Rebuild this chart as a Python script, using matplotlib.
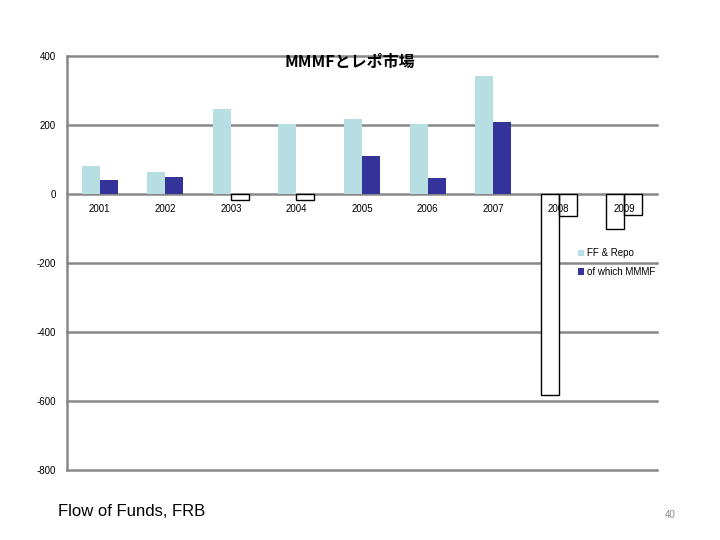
import matplotlib
matplotlib.use("Agg")
import matplotlib.pyplot as plt
import numpy as np
from matplotlib.patches import Patch

years = ["2001", "2002", "2003", "2004", "2005", "2006", "2007", "2008", "2009"]
ff_repo = [81, 64, 246, 203, 217, 203, 342, -583, -101]
mmmf = [41, 49, -17, -17, 110, 46, 209, -64, -61]
series_names = ["FF & Repo", "of which MMMF"]
yticks = [400, 200, 0, -200, -400, -600, -800]

plt.rcParams['font.family'] = ['Liberation Sans', 'DejaVu Sans']

fig = plt.figure(figsize=(7.2, 5.4), dpi=100)
ax = fig.add_axes([67/720, 1-470/540, 590/720, 414/540])

x = np.arange(len(years))
w = 0.274
c_ff = "#b7dfe3"
c_mm = "#333399"

def colors(vals, pos):
    return [pos if v >= 0 else "white" for v in vals]

def edges(vals):
    return ["none" if v >= 0 else "black" for v in vals]

for offs, vals, col, name in [(-w/2, ff_repo, c_ff, series_names[0]),
                              (w/2, mmmf, c_mm, series_names[1])]:
    ax.bar(x + offs, vals, width=w, color=colors(vals, col),
           edgecolor="none", zorder=3, label=name)
    ax.bar(x + offs, vals, width=w, color="none",
           edgecolor=edges(vals), linewidth=1.0, zorder=5)

ax.set_xlim(-0.5, len(years) - 0.5)
ax.set_ylim(-800, 400)
ax.set_yticks(yticks)
ax.set_yticklabels([str(t) for t in yticks], fontsize=7)
ax.tick_params(axis='y', length=0, pad=8)
ax.set_xticks([])
ax.yaxis.grid(True, color="#888888", linewidth=1.8, zorder=1)
ax.set_axisbelow(True)
for line in ax.get_ygridlines():
    line.set_clip_on(False)
for s in ["top", "right", "bottom"]:
    ax.spines[s].set_visible(False)
ax.spines["left"].set_color("#888888")
ax.spines["left"].set_linewidth(1.8)

for i, yr in enumerate(years):
    ax.annotate(yr, (x[i], 0), xytext=(0, -7), textcoords="offset points",
                ha="center", va="top", fontsize=7, zorder=4)

handles = [Patch(facecolor=c_ff, edgecolor="none"), Patch(facecolor=c_mm, edgecolor="none")]
ax.legend(handles, series_names, loc="upper left", bbox_to_anchor=(0.86, 0.545),
          frameon=False, fontsize=7, handlelength=0.6, handleheight=0.6,
          handletextpad=0.3, labelspacing=0.9, borderaxespad=0)

fig.text(350/720, 1-62/540, "MMMFとレポ市場", ha="center", va="center",
         fontsize=11.5, fontweight="bold",
         family=["Noto Sans CJK JP", "DejaVu Sans"])
fig.text(58/720, 1-511/540, "Flow of Funds, FRB", ha="left", va="center", fontsize=12)
fig.text(670/720, 1-515/540, "40", ha="center", va="center", fontsize=7, color="#888888")

fig.savefig("out.png", dpi=100)
